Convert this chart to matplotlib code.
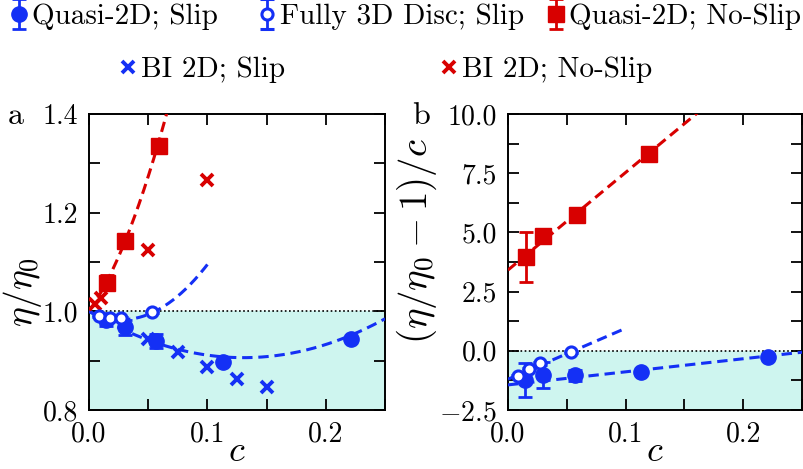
import matplotlib
matplotlib.use('Agg')
import matplotlib.pyplot as plt
import numpy as np

plt.rcParams['font.family'] = 'cmr10'
plt.rcParams['mathtext.fontset'] = 'cm'
plt.rcParams['axes.formatter.use_mathtext'] = True
plt.rcParams['font.size'] = 20

blue = '#1430f5'
red = '#d80000'
shade = '#cef5ef'

# Quasi-2D; Slip (filled circles)
c_q2s = [0.0145, 0.030, 0.057, 0.1128, 0.2214]
eta_q2s = [0.982, 0.968, 0.940, 0.898, 0.943]
eta_q2s_err = [0.011, 0.015, 0.014, 0.004, 0.004]
red_q2s = [-1.25, -1.03, -1.04, -0.91, -0.26]
red_q2s_err = [0.72, 0.55, 0.25, 0.05, 0.03]

# Fully 3D Disc; Slip (open circles)
c_3d = [0.0082, 0.0178, 0.0274, 0.0533]
eta_3d = [0.991, 0.986, 0.986, 0.998]
red_3d = [-1.06, -0.78, -0.53, -0.04]

# Quasi-2D; No-Slip (squares)
c_q2n = [0.015, 0.030, 0.059, 0.120]
eta_q2n = [1.058, 1.143, 1.336, 2.0]
eta_q2n_err = [0.015, 0.004, 0.004, 0.004]
red_q2n = [3.97, 4.85, 5.72, 8.32]
red_q2n_err = [1.05, 0.12, 0.08, 0.04]

# BI 2D (crosses, panel a only)
c_bis = [0.05, 0.075, 0.10, 0.125, 0.15]
eta_bis = [0.943, 0.917, 0.887, 0.862, 0.847]
c_bin = [0.005, 0.01, 0.05, 0.10]
eta_bin = [1.015, 1.027, 1.125, 1.266]

# linear fits of (eta/eta0 - 1)/c = a + b c
fit_q2s = [-1.44, 5.52]
fit_3d = [-1.20, 21.5]
fit_q2n = [3.41, 41.2]

labels = ['Quasi-2D; Slip', 'Fully 3D Disc; Slip', 'Quasi-2D; No-Slip', 'BI 2D; Slip', 'BI 2D; No-Slip']

fig = plt.figure(figsize=(8.04, 4.69), dpi=100)
axa = fig.add_axes([0.1107, 0.1258, 0.3682, 0.6311])
axb = fig.add_axes([0.6318, 0.1258, 0.3657, 0.6311])

dash = (0, (3.4, 1.9))
eb = dict(capsize=5, elinewidth=2, capthick=2, linestyle='none')

def fitline(ax, fit, cmax, col, reduced):
    cc = np.linspace(0, cmax, 200)
    f = fit[0] + fit[1] * cc
    ax.plot(cc, f if reduced else 1 + cc * f, color=col, lw=2.2, ls=dash, zorder=3)

# panel a
axa.axhspan(0.8, 1.0, color=shade, zorder=0)
axa.axhline(1.0, color='k', lw=1.2, ls=(0, (1, 1.5)), zorder=1)
fitline(axa, fit_q2n, 0.07, red, False)
fitline(axa, fit_3d, 0.1, blue, False)
fitline(axa, fit_q2s, 0.25, blue, False)
h5, = axa.plot(c_bin, eta_bin, 'x', color=red, ms=9, mew=2.8, zorder=4)
h4, = axa.plot(c_bis, eta_bis, 'x', color=blue, ms=9, mew=2.8, zorder=4)
h3 = axa.errorbar(c_q2n, eta_q2n, yerr=eta_q2n_err, marker='s', ms=11, color=red, zorder=5, **eb)
h2 = axa.errorbar(c_3d, eta_3d, yerr=[0.002] * 4, marker='o', ms=8, mfc='white', mew=2.2, color=blue, zorder=6, **eb)
h1 = axa.errorbar(c_q2s, eta_q2s, yerr=eta_q2s_err, marker='o', ms=11, color=blue, zorder=5, **eb)
axa.set_xlim(0, 0.25)
axa.set_ylim(0.8, 1.4)
axa.set_yticks(np.arange(0.8, 1.41, 0.1))
axa.set_yticklabels(['0.8', '', '1.0', '', '1.2', '', '1.4'])
axa.set_ylabel(r'$\eta/\eta_0$', fontsize=27)
axa.yaxis.set_label_coords(-0.152, 0.40)

# panel b
axb.axhspan(-2.5, 0.0, color=shade, zorder=0)
axb.axhline(0.0, color='k', lw=1.2, ls=(0, (1, 1.5)), zorder=1)
fitline(axb, fit_q2n, 0.25, red, True)
fitline(axb, fit_3d, 0.1, blue, True)
fitline(axb, fit_q2s, 0.25, blue, True)
axb.errorbar(c_q2n, red_q2n, yerr=red_q2n_err, marker='s', ms=11, color=red, zorder=5, **eb)
axb.errorbar(c_3d, red_3d, yerr=[0.05] * 4, marker='o', ms=8, mfc='white', mew=2.2, color=blue, zorder=6, **eb)
axb.errorbar(c_q2s, red_q2s, yerr=red_q2s_err, marker='o', ms=11, color=blue, zorder=5, **eb)
axb.set_xlim(0, 0.25)
axb.set_ylim(-2.5, 10)
axb.set_yticks(np.arange(-2.5, 10.01, 1.25))
axb.set_yticklabels(['$-2.5$', '', '0.0', '', '2.5', '', '5.0', '', '7.5', '', '10.0'])
axb.set_ylabel(r'$(\eta/\eta_0-1)/c$', fontsize=28)
axb.yaxis.set_label_coords(-0.235, 0.57)

for ax in (axa, axb):
    ax.set_xticks(np.arange(0, 0.251, 0.05))
    ax.set_xticklabels(['0.0', '', '0.1', '', '0.2', ''])
    ax.set_xlabel(r'$c$', fontsize=26)
    ax.xaxis.set_label_coords(0.5, -0.088)
    ax.tick_params(direction='in', top=True, right=True, length=8, width=1.3, pad=8)
    for s in ax.spines.values():
        s.set_linewidth(1.4)

fig.text(0.010, 0.735, 'a', fontsize=23)
fig.text(0.512, 0.735, 'b', fontsize=23)

# legend entries placed one by one (two rows)
handles = [h1, h2, h3, h4, h5]
xpos = [12, 260, 549, 121, 442]
ypos = [17, 17, 17, 70, 70]
for h, lab, x, y in zip(handles, labels, xpos, ypos):
    fig.legend([h], [lab], loc='center left', bbox_to_anchor=(x / 804, 1 - y / 469),
               frameon=False, handlelength=0.5, handletextpad=0.2, borderpad=0,
               borderaxespad=0, fontsize=21)

fig.savefig('out.png', dpi=100)
